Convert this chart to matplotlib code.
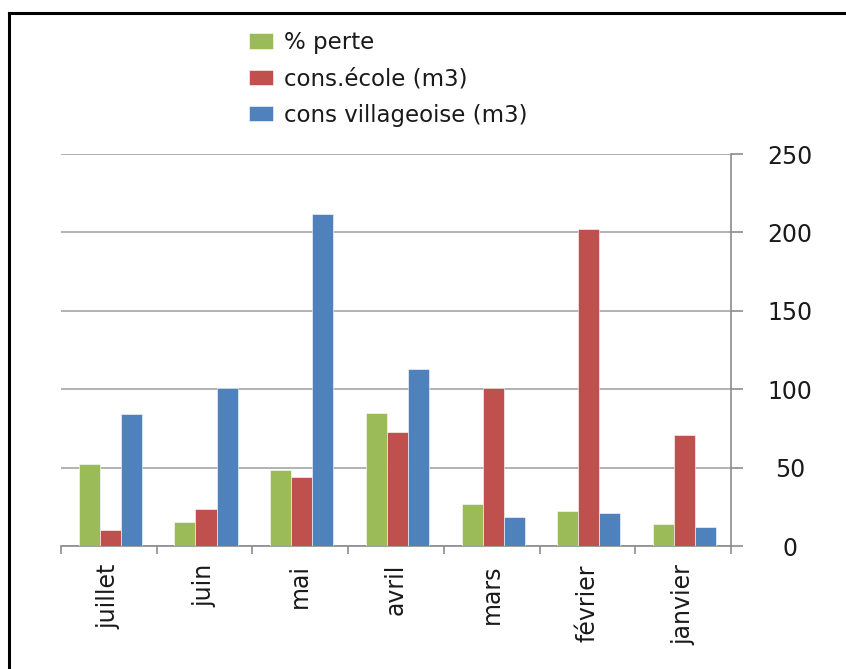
import matplotlib
matplotlib.use("Agg")
import matplotlib.pyplot as plt
import numpy as np
from matplotlib.lines import Line2D

# monthly data, listed from July back to January
mois = ["juillet", "juin", "mai", "avril", "mars", "février", "janvier"]
perte = [52, 15.5, 48.5, 85, 26.5, 22.5, 14]
cons_ecole = [10, 23.5, 44, 73, 101, 202, 71]
cons_village = [84, 101, 212, 113, 18.5, 21, 12]

series = [
    ("% perte", perte, "#9BBB59"),
    ("cons.école (m3)", cons_ecole, "#C0504D"),
    ("cons villageoise (m3)", cons_village, "#4F81BD"),
]

fig = plt.figure(figsize=(8.46, 6.69), dpi=100)
ax = fig.add_axes([61 / 846, 1 - 546 / 669, 670 / 846, 392 / 669])

x = np.arange(len(mois))
w = 0.22
for i, (name, vals, col) in enumerate(series):
    ax.bar(x + (i - 1) * w + 0.015, vals, width=w, color=col, label=name,
           edgecolor="white", linewidth=0.4, zorder=3)

ax.set_xlim(-0.5, len(mois) - 0.5)
ax.set_ylim(0, 250)
ax.set_yticks([0, 50, 100, 150, 200, 250])
ax.yaxis.tick_right()
ax.grid(axis="y", color="#a6a6a6", linewidth=1.2, zorder=0)

for s in ["top", "left"]:
    ax.spines[s].set_visible(False)
for s in ["right", "bottom"]:
    ax.spines[s].set_color("#8c8c8c")
    ax.spines[s].set_linewidth(1.2)

ax.tick_params(axis="y", direction="out", length=8.6, width=1.2, color="#8c8c8c",
               pad=34, labelsize=17, labelcolor="#1a1a1a")
for lab in ax.get_yticklabels():
    lab.set_horizontalalignment("center")

# category names between boundary ticks
ax.set_xticks(x)
ax.set_xticklabels(mois, rotation=90, va="top", fontsize=17)
ax.set_xticks(np.arange(-0.5, len(mois)), minor=True)
ax.tick_params(axis="x", which="major", length=0, pad=13, labelcolor="#1a1a1a")
ax.tick_params(axis="x", which="minor", direction="out", length=6, width=1.2,
               color="#8c8c8c")

fig.legend(loc="upper left", bbox_to_anchor=(240 / 846, 1 - 22 / 669),
           frameon=False, fontsize=16.5, handlelength=1.05, handleheight=0.65,
           handletextpad=0.45, labelspacing=0.58, borderaxespad=0,
           labelcolor="#1a1a1a")

# frame along the top and left edges
fig.add_artist(Line2D([9 / 846, 1], [1 - 13 / 669, 1 - 13 / 669],
                      transform=fig.transFigure, color="black", linewidth=2.2))
fig.add_artist(Line2D([9 / 846, 9 / 846], [0, 1 - 13 / 669],
                      transform=fig.transFigure, color="black", linewidth=2.2))

fig.savefig("out.png", dpi=100)
